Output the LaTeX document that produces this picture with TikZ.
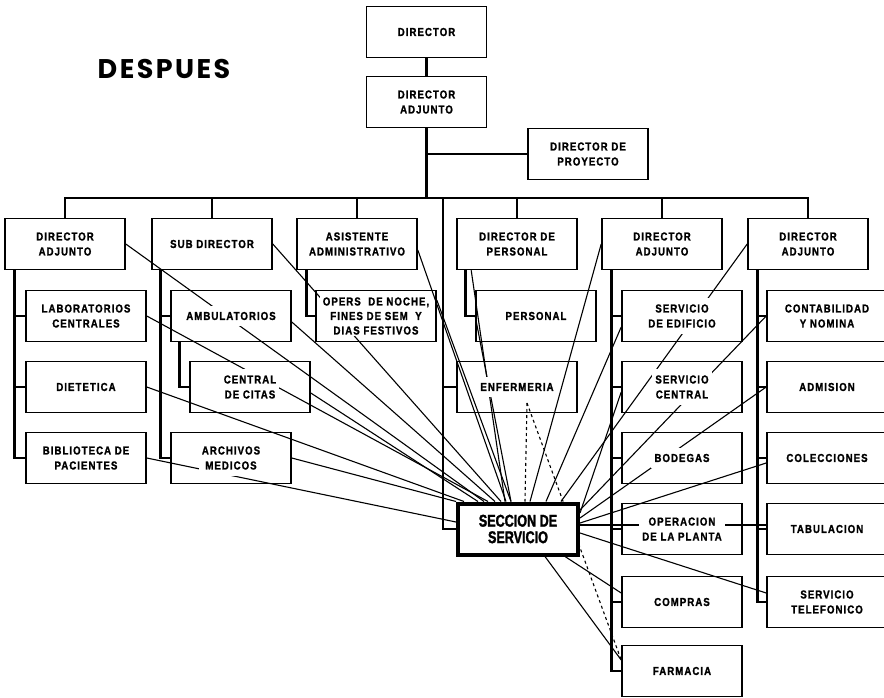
\documentclass[tikz,border=0pt]{standalone}
\usepackage{fontspec}
\setmainfont{Liberation Sans}
\newfontfamily\boxfont[FakeStretch=0.84,LetterSpace=9,BoldFeatures={FakeBold=1.3}]{Liberation Sans}
\newfontfamily\secfont[FakeStretch=0.74,BoldFeatures={FakeBold=1.6}]{Liberation Sans}
\newfontfamily\titlefont[LetterSpace=9]{Poppins}
\pgfdeclarelayer{background}
\pgfsetlayers{background,main}

\begin{document}
\begin{tikzpicture}[x=1pt,y=-1pt,
    box/.style={draw,line width=1.6pt,minimum width=120pt,minimum height=51pt,inner sep=0pt},
    txt/.style={fill=white,inner xsep=3pt,inner ysep=6pt,align=center,
      font=\boxfont\bfseries\fontsize{11.5pt}{15pt}\selectfont},
    tree/.style={line width=2.6pt},
    fan/.style={line width=1.1pt}]
    \useasboundingbox (0,0) rectangle (884,697);

    \node[font=\titlefont\bfseries\fontsize{27pt}{27pt}\selectfont] (title) at (164,69) {DESPUES};

    % boxes
    \node[box] (dir) at (426.5,32) {};
    \node[box] (dat) at (426.5,102) {};
    \node[box] (dpr) at (588,154) {};
    \node[box] (da1) at (65,244) {};
    \node[box] (sd) at (212,244) {};
    \node[box] (aa) at (357,244) {};
    \node[box] (dp) at (517,244) {};
    \node[box] (da2) at (662,244) {};
    \node[box] (da3) at (808,244) {};
    \node[box] (lab) at (86,316) {};
    \node[box] (die) at (86,387) {};
    \node[box] (bib) at (86,458) {};
    \node[box] (amb) at (231,316) {};
    \node[box] (cit) at (250,387) {};
    \node[box] (arc) at (231,458) {};
    \node[box] (ope) at (376,316) {};
    \node[box] (per) at (536,316) {};
    \node[box] (enf) at (517,387) {};
    \node[box] (sed) at (682,316) {};
    \node[box] (sce) at (682,387) {};
    \node[box] (bod) at (682,458) {};
    \node[box] (opl) at (682,529) {};
    \node[box] (com) at (682,602) {};
    \node[box] (far) at (682,671) {};
    \node[box] (con) at (827,316) {};
    \node[box] (adm) at (827,387) {};
    \node[box] (col) at (827,458) {};
    \node[box] (tab) at (827,529) {};
    \node[box] (tel) at (827,602) {};
    \node[box,line width=4pt,fill=white,align=center,
      font=\secfont\bfseries\fontsize{17pt}{16.5pt}\selectfont] (sec) at (518,529) {SECCION DE\\SERVICIO};

    % lines to the service section
    \begin{pgfonlayer}{background}
    \draw[fan] (da1.east) -- ([xshift=28pt]sec.north west);
    \draw[fan] (sd.east) -- ([xshift=45pt]sec.north west);
    \draw[fan] (lab.east) -- ([xshift=32pt]sec.north west);
    \draw[fan] ([yshift=-6pt]amb.east) -- ([xshift=39pt]sec.north west);
    \draw[fan] ([yshift=-6pt]cit.east) -- ([xshift=22pt]sec.north west);
    \draw[fan] (die.east) -- ([xshift=8pt]sec.north west);
    \draw[fan] (arc.east) -- (sec.north west);
    \draw[fan] (bib.east) -- ([yshift=7pt]sec.west);
    \draw[fan] ([yshift=-6pt]aa.east) -- ([xshift=50pt]sec.north west);
    \draw[fan] ([yshift=16pt]ope.east) -- ([xshift=55pt]sec.north west);
    \draw[fan] ([xshift=15pt]dp.south west) -- ([xshift=49pt]sec.north west);
    \draw[fan] (per.west) -- ([xshift=55pt]sec.north west);
    \draw[fan] (da2.west) -- ([xshift=74pt]sec.north west);
    \draw[fan] ([yshift=-11pt]sed.west) -- ([xshift=90pt]sec.north west);
    \draw[fan] (da3.west) -- ([xshift=105pt]sec.north west);
    \draw[fan] ([yshift=-5pt]sce.west) -- ([yshift=16pt]sec.east);
    \draw[fan] (con.west) -- ([yshift=19pt]sec.east);
    \draw[fan] (adm.west) -- ([yshift=11pt]sec.east);
    \draw[fan] ([yshift=-5pt]col.west) -- ([yshift=6pt]sec.east);
    \draw[fan] ([yshift=4pt]tab.west) -- ([yshift=4pt]sec.east);
    \draw[fan] ([yshift=9pt]tel.west) -- ([yshift=-4pt]sec.east);
    \draw[fan] ([xshift=-15pt]sec.south east) -- ([yshift=9pt]com.west);
    \draw[fan] ([xshift=-35pt]sec.south east) -- ([yshift=11pt]far.west);
    \coordinate (enfp) at ([xshift=10pt,yshift=-16pt]enf.center);
    \draw[fan,dashed] (enfp) -- ([xshift=69pt]sec.north west);
    \draw[fan,dashed] (enfp) -- ([yshift=11pt]far.west);
    \end{pgfonlayer}

    % chart lines
    \coordinate (bar) at (443,198);
    \draw[tree] (dir) -- (dat);
    \draw[tree] (dat) -- (dat |- bar);
    \draw[tree] (dat |- dpr.west) -- (dpr.west);
    \draw[tree] (da1.north) |- (bar) -| (da3.north);
    \foreach \n in {sd,aa,dp,da2}
      \draw[tree] (\n) -- (\n |- bar);
    \draw[tree] (bar) |- (sec.west);
    \draw[tree] (bar |- enf.west) -- (enf.west);
    \coordinate (c1) at ([xshift=10pt]da1.south west);
    \draw[tree] (c1) |- (bib.west);
    \foreach \n in {lab,die}
      \draw[tree] (c1 |- \n.west) -- (\n.west);
    \coordinate (c2) at ([xshift=9pt]sd.south west);
    \draw[tree] (c2) |- (arc.west);
    \draw[tree] (c2 |- amb.west) -- (amb.west);
    \coordinate (c3) at ([xshift=9pt]amb.south west);
    \draw[tree] (c3) |- (cit.west);
    \coordinate (c4) at ([xshift=10pt]aa.south west);
    \draw[tree] (c4) |- (ope.west);
    \coordinate (c5) at ([xshift=9pt]dp.south west);
    \draw[tree] (c5) |- (per.west);
    \coordinate (c6) at ([xshift=10pt]da2.south west);
    \draw[tree] (c6) |- (far.west);
    \foreach \n in {sed,sce,bod,opl,com}
      \draw[tree] (c6 |- \n.west) -- (\n.west);
    \coordinate (c7) at ([xshift=10pt]da3.south west);
    \draw[tree] (c7) |- (tel.west);
    \foreach \n in {con,adm,col,tab}
      \draw[tree] (c7 |- \n.west) -- (\n.west);

    % labels
    \node[txt] at (dir) {DIRECTOR};
    \node[txt] at (dat) {DIRECTOR\\ADJUNTO};
    \node[txt] at (dpr) {DIRECTOR DE\\PROYECTO};
    \node[txt] at (da1) {DIRECTOR\\ADJUNTO};
    \node[txt] at (sd) {SUB DIRECTOR};
    \node[txt] at (aa) {ASISTENTE\\ADMINISTRATIVO};
    \node[txt] at (dp) {DIRECTOR DE\\PERSONAL};
    \node[txt] at (da2) {DIRECTOR\\ADJUNTO};
    \node[txt] at (da3) {DIRECTOR\\ADJUNTO};
    \node[txt] at (lab) {LABORATORIOS\\CENTRALES};
    \node[txt] at (die) {DIETETICA};
    \node[txt] at (bib) {BIBLIOTECA DE\\PACIENTES};
    \node[txt] at (amb) {AMBULATORIOS};
    \node[txt] at (cit) {CENTRAL\\DE CITAS};
    \node[txt] at (arc) {ARCHIVOS\\MEDICOS};
    \node[txt,inner ysep=1pt,font=\boxfont\bfseries\fontsize{11.5pt}{14.5pt}\selectfont] at (ope) {OPERS\ \ DE NOCHE,\\FINES DE SEM\ \ Y\\DIAS FESTIVOS};
    \node[txt] at (per) {PERSONAL};
    \node[txt] at (enf) {ENFERMERIA};
    \node[txt] at (sed) {SERVICIO\\DE EDIFICIO};
    \node[txt] at (sce) {SERVICIO\\CENTRAL};
    \node[txt] at (bod) {BODEGAS};
    \node[txt] at (opl) {OPERACION\\DE LA PLANTA};
    \node[txt] at (com) {COMPRAS};
    \node[txt] at (far) {FARMACIA};
    \node[txt] at (con) {CONTABILIDAD\\Y NOMINA};
    \node[txt] at (adm) {ADMISION};
    \node[txt] at (col) {COLECCIONES};
    \node[txt] at (tab) {TABULACION};
    \node[txt] at (tel) {SERVICIO\\TELEFONICO};
\end{tikzpicture}
\end{document}
